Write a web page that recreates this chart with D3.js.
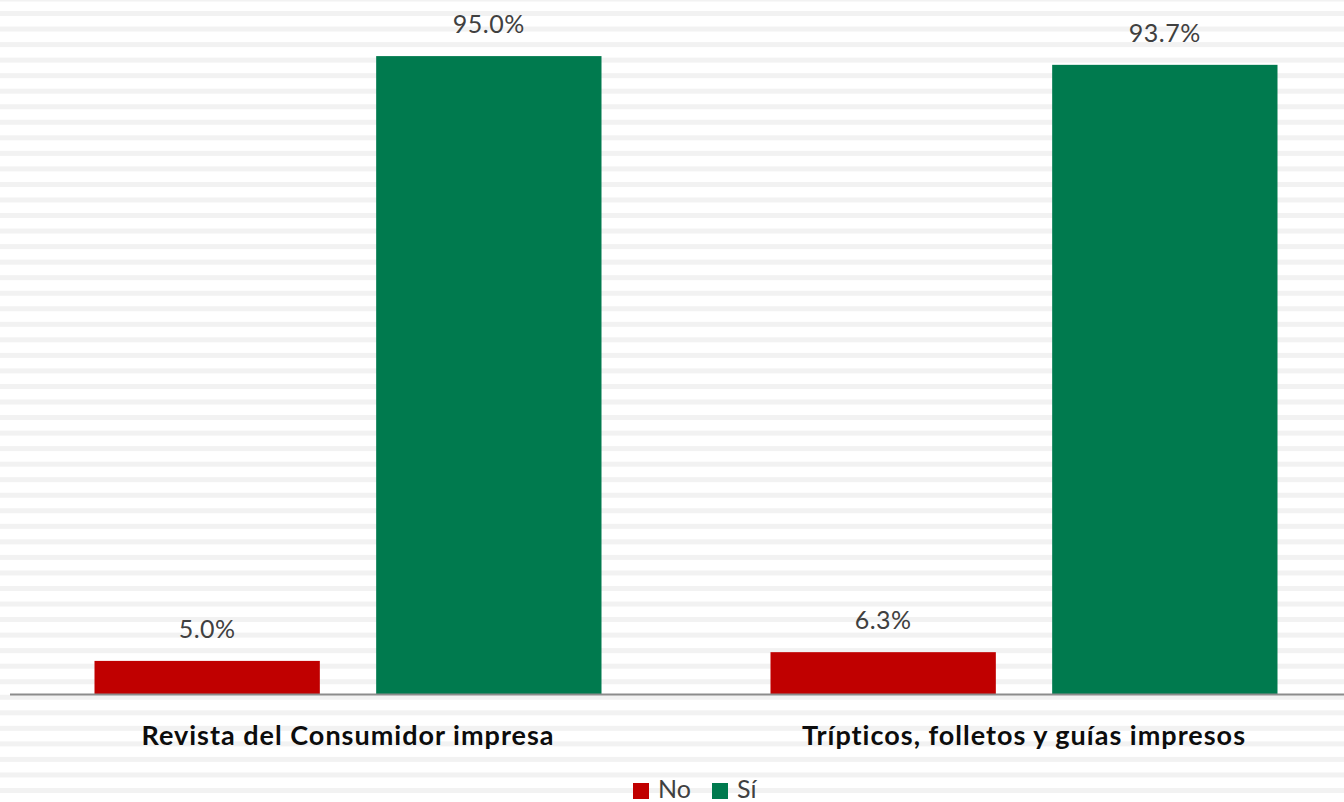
<!DOCTYPE html>
<html><head><meta charset="utf-8">
<script src="https://cdn.jsdelivr.net/npm/d3@7"></script>
<style>body{margin:0;background:#fff}svg{display:block}</style>
</head><body>
<svg id="chart" width="1344" height="802"></svg>
<script>
const categories = ["Revista del Consumidor impresa", "Trípticos, folletos y guías impresos"];
const seriesNames = ["No", "Sí"];
const noValues = [5.0, 6.3];
const siValues = [95.0, 93.7];
const colors = ["#C00000", "#007A4E"];

const W = 1344, H = 802;
const svg = d3.select("#chart");

// striped background
const stripes = d3.range(0, 52).map(i => 11 + i * 15.54);
svg.append("rect").attr("width", W).attr("height", H).attr("fill", "#fff");
svg.append("g").selectAll("rect").data(stripes).join("rect")
  .attr("x", 0).attr("width", W).attr("y", d => d).attr("height", 5).attr("fill", "#f2f2f2");
svg.append("rect").attr("x",0).attr("y",0).attr("width",W).attr("height",1.5).attr("fill","#f2f2f2");

const x0 = d3.scaleBand().domain(categories).range([10, 1362]).paddingInner(0).paddingOuter(0);
const x1 = d3.scaleBand().domain(seriesNames).range([84.5, 676 - 84.5]).paddingInner(0.2);
const y = d3.scaleLinear().domain([0, 100]).range([694.5, 22.5]);

const rows = categories.map((c, i) => ({cat: c, vals: [noValues[i], siValues[i]]}));

const g = svg.append("g");
const groups = g.selectAll("g.grp").data(rows).join("g")
  .attr("transform", d => `translate(${x0(d.cat)},0)`);

groups.selectAll("rect").data(d => d.vals.map((v, j) => ({s: seriesNames[j], v, j})))
  .join("rect")
  .attr("x", d => x1(d.s)).attr("width", x1.bandwidth())
  .attr("y", d => y(d.v)).attr("height", d => y(0) - y(d.v))
  .attr("fill", d => colors[d.j]);

groups.selectAll("text.val").data(d => d.vals.map((v, j) => ({s: seriesNames[j], v})))
  .join("text").attr("class", "val")
  .attr("x", d => x1(d.s) + x1.bandwidth() / 2)
  .attr("y", d => y(d.v) - 23)
  .attr("text-anchor", "middle")
  .attr("font-family", "Lato, 'Open Sans', sans-serif")
  .attr("font-size", 25).attr("letter-spacing", 0.5).attr("fill", "#404040")
  .text(d => d.v.toFixed(1) + "%");

// axis
const axis = d3.axisBottom(x0).tickSize(0).tickPadding(0);
const ax = svg.append("g").attr("transform", `translate(0,${y(0)})`).call(axis);
ax.select(".domain").attr("stroke", "#8c8c8c").attr("stroke-width", 2).attr("d", `M10,0H${W}`);
ax.selectAll(".tick text")
  .attr("y", 50).attr("dy", 0)
  .attr("font-family", "Lato, 'Open Sans', sans-serif")
  .attr("font-weight", "bold").attr("font-size", 27).attr("letter-spacing", 1).attr("fill", "#0d0d0d");

// legend
const legend = svg.append("g");
const items = [{n: "No", c: colors[0], x: 633}, {n: "Sí", c: colors[1], x: 712}];
const li = legend.selectAll("g").data(items).join("g").attr("transform", d => `translate(${d.x},783)`);
li.append("rect").attr("width", 16).attr("height", 16).attr("fill", d => d.c);
li.append("text").attr("x", 25).attr("y", 15)
  .attr("font-family", "Lato, 'Open Sans', sans-serif").attr("font-size", 25).attr("fill", "#404040")
  .text(d => d.n);
</script>
</body></html>
